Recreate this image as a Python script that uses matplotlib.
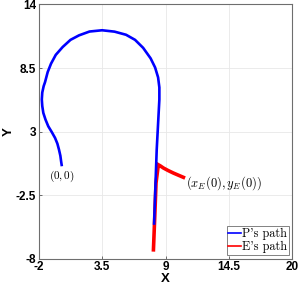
import numpy as np
import matplotlib
matplotlib.use("Agg")
import matplotlib.pyplot as plt
from matplotlib.lines import Line2D

plt.rcParams['mathtext.fontset'] = 'cm'

# pursuer path
p_x = [0.0, -0.06, -0.13, -0.25, -0.39, -0.59, -0.87, -1.18, -1.42, -1.61, -1.70,
       -1.74, -1.70, -1.58, -1.46, -1.23, -0.94, -0.53, 0.07, 0.75, 1.49, 2.40,
       3.49, 4.57, 5.57, 6.35, 7.05, 7.70, 8.09, 8.35, 8.46, 8.46, 8.23, 8.0]
p_y = [0.0, 0.39, 0.91, 1.44, 1.96, 2.45, 2.95, 3.46, 4.04, 4.62, 5.21,
       5.78, 6.38, 6.93, 7.28, 8.15, 8.88, 9.64, 10.32, 10.94, 11.33, 11.66,
       11.77, 11.65, 11.38, 10.94, 10.25, 9.34, 8.55, 7.69, 6.82, 5.78, 1.44, -5.07]

# evader path
e_x = [10.69, 10.17, 9.68, 9.22, 8.81, 8.56, 8.37, 8.17, 8.06, 7.94]
e_y = [-1.02, -0.80, -0.59, -0.37, -0.15, 0.02, 0.13, -1.45, -4.35, -7.39]

ticks_x = [-2, 3.5, 9, 14.5, 20]
ticks_y = [-8, -2.5, 3, 8.5, 14]

fig = plt.figure(figsize=(2.99, 2.90), dpi=100)
ax = fig.add_axes([0.1298, 0.108, 0.848, 0.8765])

ax.plot(e_x, e_y, color='red', lw=2.6, solid_capstyle='butt', solid_joinstyle='miter', zorder=3)
ax.plot(p_x, p_y, color='blue', lw=1.9, solid_capstyle='butt', zorder=4)

ax.set_xlim(-2, 20)
ax.set_ylim(-8, 14)
ax.set_xticks(ticks_x)
ax.set_yticks(ticks_y)
ax.set_xticklabels(['-2', '3.5', '9', '14.5', '20'])
ax.set_yticklabels(['-8', '-2.5', '3', '8.5', '14'])
for lab in ax.get_xticklabels() + ax.get_yticklabels():
    lab.set_family('Liberation Sans')
    lab.set_fontweight('bold')
    lab.set_fontsize(8.5)
ax.tick_params(direction='in', length=2.5, width=0.6, color='#555555', pad=2)
ax.grid(True, color='#e8e8e8', lw=0.6)
ax.set_axisbelow(True)
for s in ax.spines.values():
    s.set_color('#6e6e6e')
    s.set_linewidth(0.8)

ax.set_xlabel('X', family='Liberation Sans', fontweight='bold', fontsize=9.5, labelpad=0)
ax.set_ylabel('Y', family='Liberation Sans', fontweight='bold', fontsize=9.5)
ax.yaxis.set_label_coords(-0.095, 0.5)

ax.text(0.0, -0.25, r'$(0,0)$', ha='center', va='top', fontsize=8)
ax.text(10.75, -1.45, r'$(x_E(0),y_E(0))$', ha='left', va='center', fontsize=9)

handles = [Line2D([], [], color='blue', lw=1.2), Line2D([], [], color='red', lw=1.2)]
leg = ax.legend(handles, ["P's path", "E's path"], loc='lower right',
                prop={'family': 'cmr10', 'size': 8.8},
                handlelength=1.0, handletextpad=0.1, borderpad=0.15,
                labelspacing=0.1, borderaxespad=0.3, fancybox=False,
                framealpha=1)
leg.get_frame().set_edgecolor('#6e6e6e')
leg.get_frame().set_linewidth(0.6)

fig.savefig('out.png', dpi=100)
